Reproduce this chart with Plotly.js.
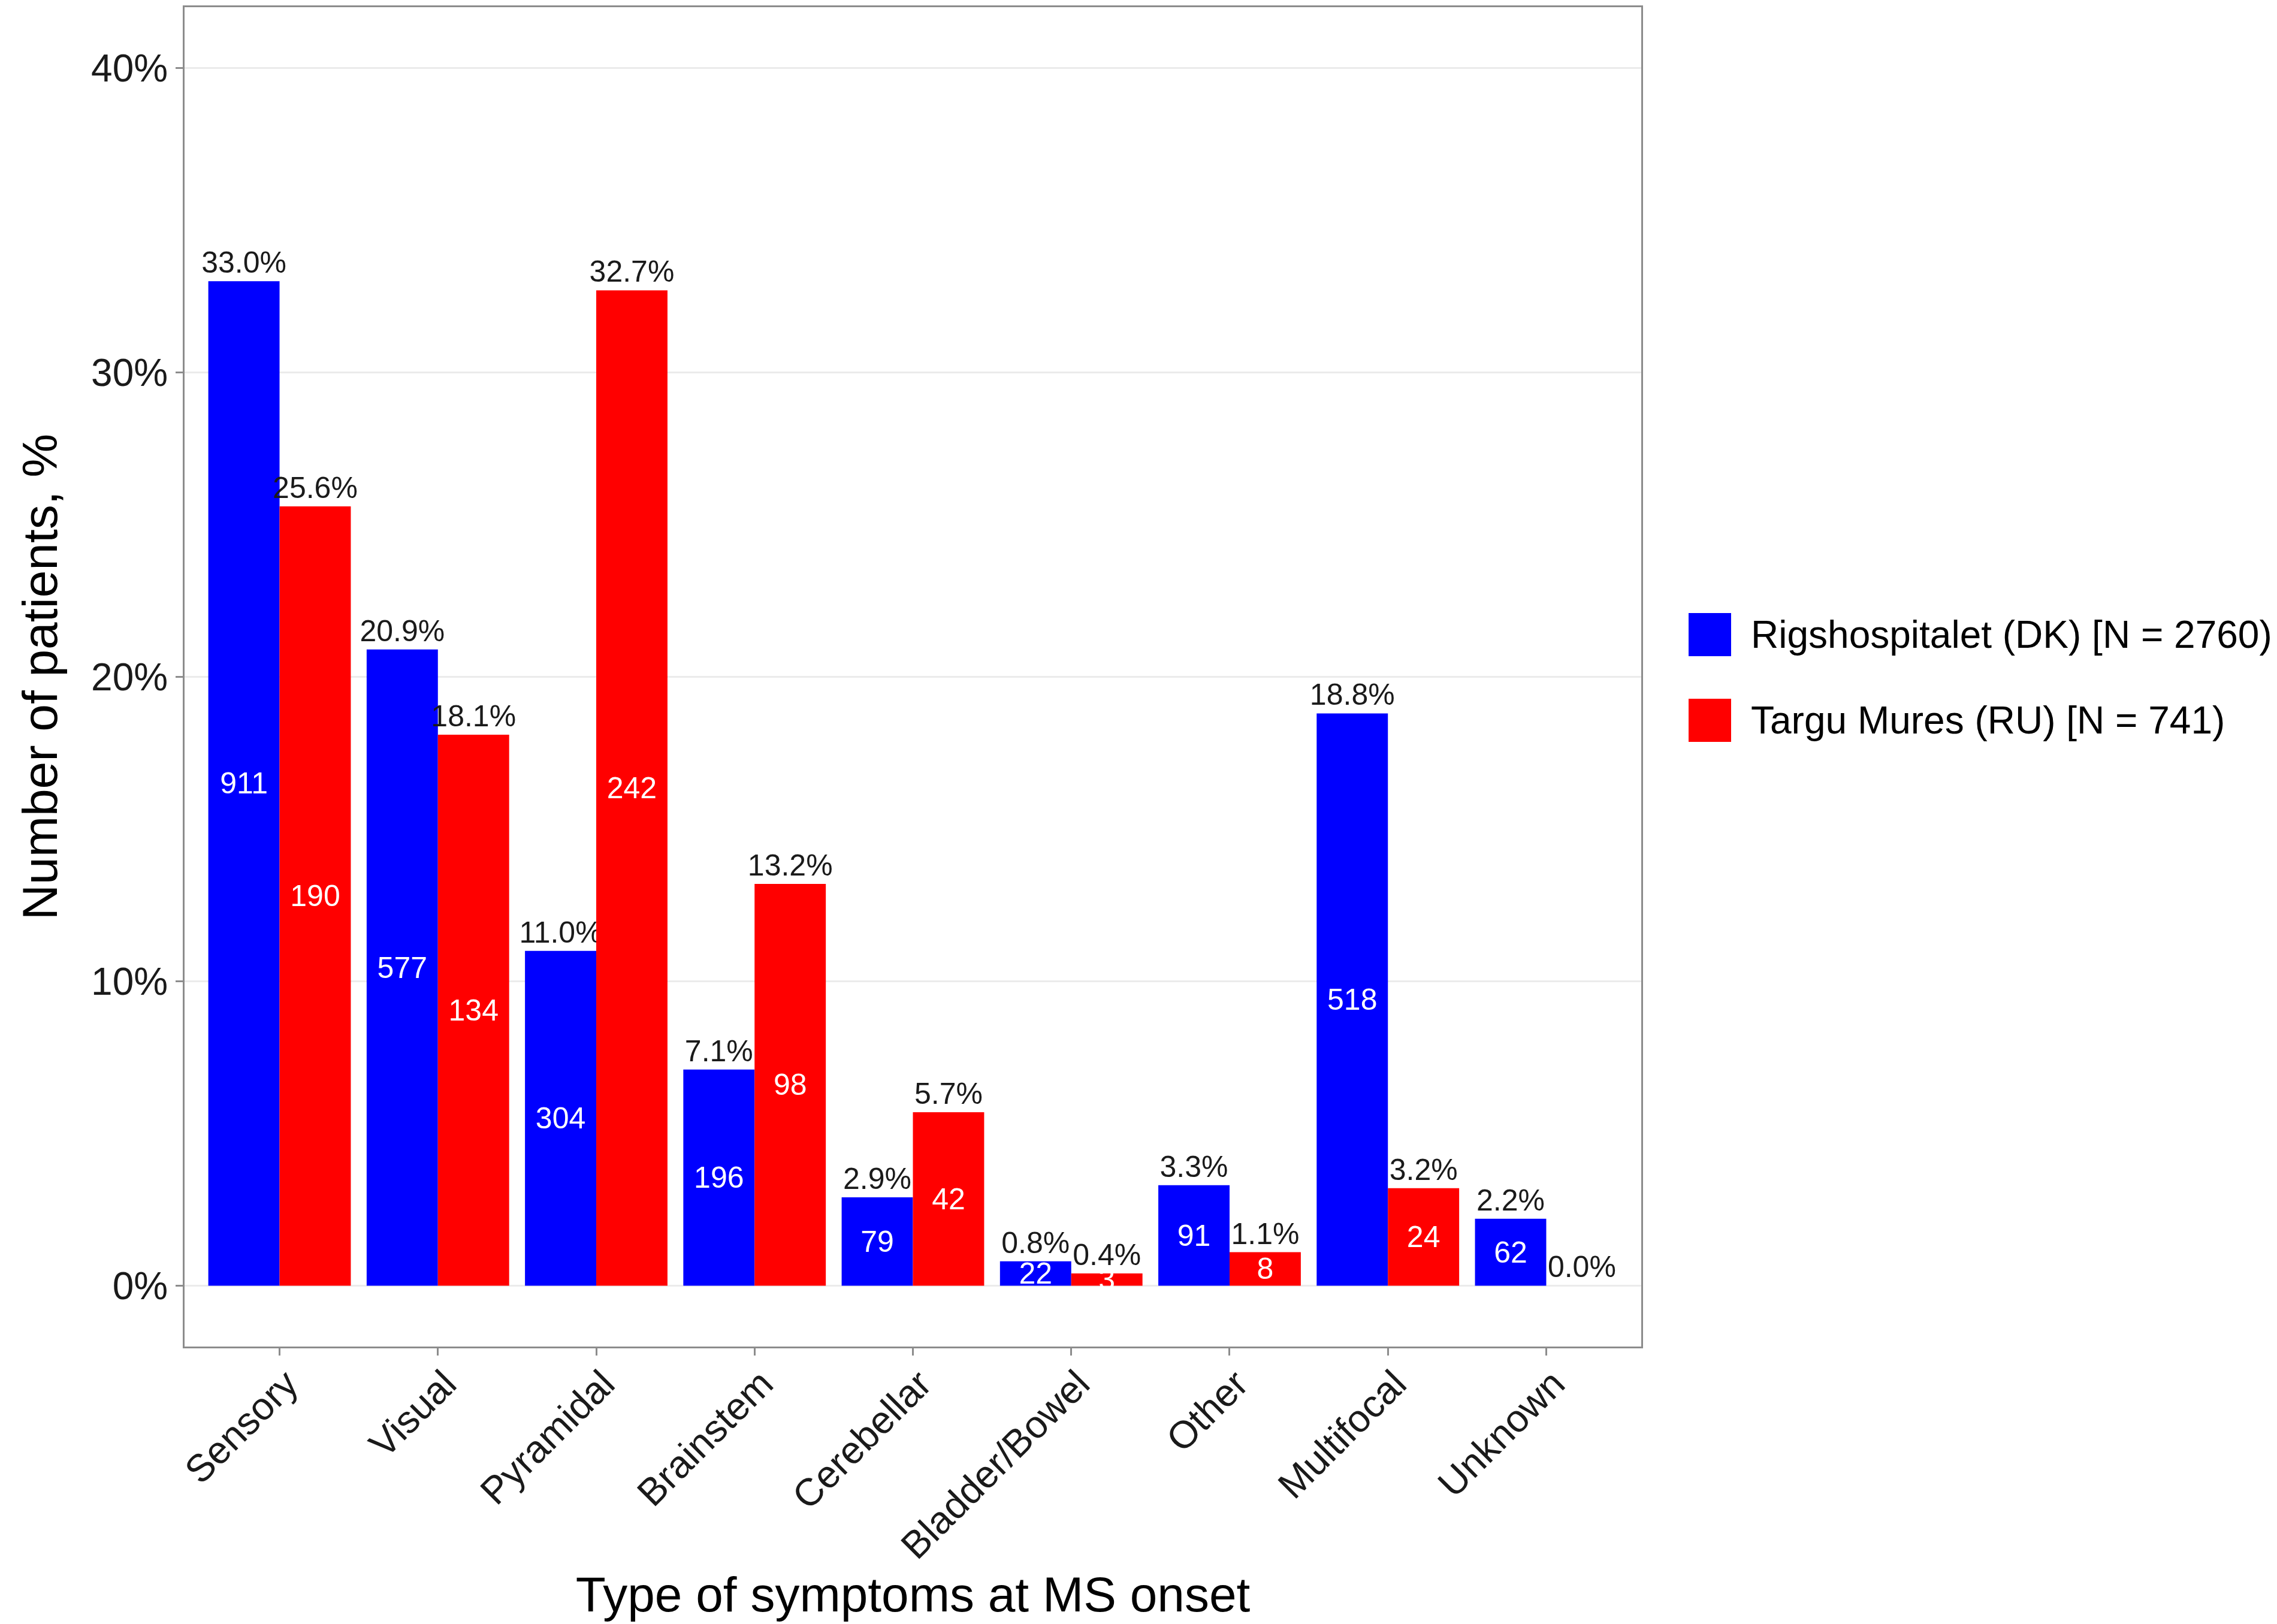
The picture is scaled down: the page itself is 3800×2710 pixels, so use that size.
<!DOCTYPE html>
<html>
<head>
<meta charset="utf-8">
<script src="https://cdn.plot.ly/plotly-3.0.1.min.js"></script>
<style>
  html, body { margin: 0; padding: 0; background: #ffffff; }
  #chart { width: 3800px; height: 2710px; }
</style>
</head>
<body>
<div id="chart"></div>
<script>
// categories and values
var categorias = ['Sensory', 'Visual', 'Pyramidal', 'Brainstem', 'Cerebellar', 'Bladder/Bowel', 'Other', 'Multifocal', 'Unknown'];

var pct_dk = [33.0, 20.9, 11.0, 7.1, 2.9, 0.8, 3.3, 18.8, 2.2];
var n_dk = [911, 577, 304, 196, 79, 22, 91, 518, 62];

var pct_ru = [25.6, 18.1, 32.7, 13.2, 5.7, 0.4, 1.1, 3.2, 0.0];
var n_ru = [190, 134, 242, 98, 42, 3, 8, 24, 0];

var nombre_dk = 'Rigshospitalet (DK) [N = 2760)';
var nombre_ru = 'Targu Mures (RU) [N = 741)';

var y_ticks = [0, 10, 20, 30, 40];

var fuente = '"Liberation Sans", Arial, Helvetica, sans-serif';
var azul = '#0000ff';
var rojo = '#ff0000';

function etiquetas_pct(arr) {
    return arr.map(function (v) { return v.toFixed(1) + '%'; });
}

function barras_conteo(pct, n, color, grupo, nombre) {
    return {
        x: categorias,
        y: pct,
        name: nombre,
        type: 'bar',
        offsetgroup: grupo,
        marker: { color: color, line: { width: 0 } },
        text: n.map(String),
        textposition: 'inside',
        insidetextanchor: 'middle',
        constraintext: 'none',
        textangle: 0,
        insidetextfont: { family: fuente, size: 50, color: '#ffffff' },
        cliponaxis: false,
        showlegend: false,
        hoverinfo: 'x+y+name'
    };
}

function barras_pct(pct, grupo) {
    return {
        x: categorias,
        y: pct,
        type: 'bar',
        offsetgroup: grupo,
        marker: { color: 'rgba(0,0,0,0)', line: { width: 0 } },
        text: etiquetas_pct(pct),
        textposition: 'outside',
        constraintext: 'none',
        textangle: 0,
        outsidetextfont: { family: fuente, size: 50, color: '#1a1a1a' },
        cliponaxis: false,
        showlegend: false,
        hoverinfo: 'skip'
    };
}

var data = [
    barras_conteo(pct_dk, n_dk, azul, 'dk', nombre_dk),
    barras_pct(pct_dk, 'dk'),
    barras_conteo(pct_ru, n_ru, rojo, 'ru', nombre_ru),
    barras_pct(pct_ru, 'ru')
];

// legend drawn by hand so the keys can be as big as in the original
var leyenda = [
    { nombre: nombre_dk, color: azul, y0: 0.5154, y1: 0.5477 },
    { nombre: nombre_ru, color: rojo, y0: 0.4515, y1: 0.4837 }
];

var shapes = leyenda.map(function (l) {
    return {
        type: 'rect', xref: 'paper', yref: 'paper',
        x0: 1.0325, x1: 1.0617, y0: l.y0, y1: l.y1,
        fillcolor: l.color, line: { width: 0 }
    };
});

var annotations = leyenda.map(function (l) {
    return {
        xref: 'paper', yref: 'paper',
        x: 1.0745, y: (l.y0 + l.y1) / 2,
        xanchor: 'left', yanchor: 'middle',
        text: l.nombre, showarrow: false,
        font: { family: fuente, size: 64, color: '#000000' }
    };
});

var layout = {
    width: 3800,
    height: 2710,
    margin: { t: 12, b: 463, l: 308, r: 1061 },
    paper_bgcolor: '#ffffff',
    plot_bgcolor: '#ffffff',
    font: { family: fuente, size: 64, color: '#1a1a1a' },
    barmode: 'group',
    bargap: 0.1,
    bargroupgap: 0,
    showlegend: false,
    xaxis: {
        type: 'category',
        range: [-0.6, 8.6],
        showgrid: false,
        zeroline: false,
        showline: true,
        mirror: true,
        linecolor: '#8c8c8c',
        linewidth: 3,
        ticks: 'outside',
        ticklen: 12,
        tickwidth: 3,
        tickcolor: '#8c8c8c',
        tickangle: -45,
        ticklabelshift: 12,
        ticklabelstandoff: -16,
        tickfont: { family: fuente, size: 64, color: '#1a1a1a' },
        title: { text: 'Type of symptoms at MS onset', font: { family: fuente, size: 82, color: '#000000' }, standoff: 0 }
    },
    yaxis: {
        range: [-2.0, 42.0],
        tickvals: y_ticks,
        ticktext: y_ticks.map(function (v) { return v + '%'; }),
        showgrid: true,
        gridcolor: '#ebebeb',
        gridwidth: 3,
        zeroline: false,
        showline: true,
        mirror: true,
        linecolor: '#8c8c8c',
        linewidth: 3,
        ticks: 'outside',
        ticklen: 12,
        tickwidth: 3,
        tickcolor: '#8c8c8c',
        tickfont: { family: fuente, size: 64, color: '#1a1a1a' },
        title: { text: 'Number of patients, %', font: { family: fuente, size: 82, color: '#000000' }, standoff: 30 }
    },
    shapes: shapes,
    annotations: annotations
};

Plotly.newPlot('chart', data, layout, { displayModeBar: false, responsive: false });
</script>
</body>
</html>
